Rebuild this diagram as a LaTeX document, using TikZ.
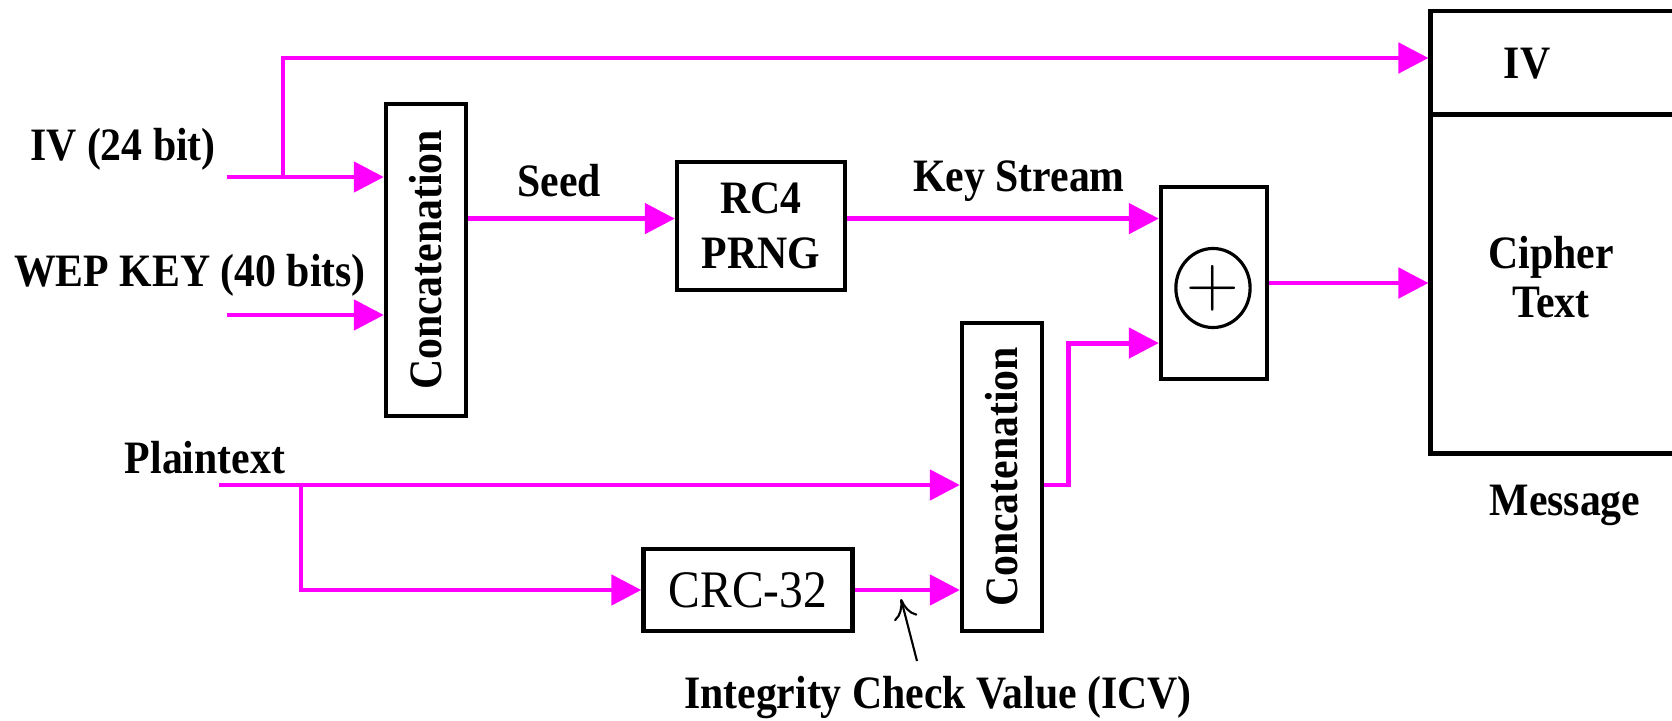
\documentclass[tikz,border=0pt]{standalone}
\usepackage{fontspec}
\setmainfont[FakeStretch=0.9]{Liberation Serif}
\usetikzlibrary{arrows.meta,shapes.geometric}
\definecolor{flowpink}{RGB}{255,0,255}

\begin{document}
\begin{tikzpicture}[x=0.01cm, y=-0.01cm]
    \tikzset{
        box/.style={draw, line width=1.2pt, inner sep=0pt},
        flow/.style={flowpink, line width=1.4pt, -{Triangle[length=3mm, width=3mm]}},
        lbl/.style={font=\fontsize{13.2}{15}\selectfont\bfseries, align=center, inner sep=0pt},
        pointer/.style={-{To[length=2mm, width=2.4mm]}, line width=0.6pt}
    }

    % Fix the page size
    \clip (0,0) rectangle (1672,721);

    % Add the blocks
    \node[box, minimum width=0.8cm, minimum height=3.12cm] (cat1) at (426,260) {};
    \node[lbl, rotate=90] at (cat1.center) {Concatenation};
    \node[box, lbl, font=\fontsize{13.2}{15.5}\selectfont\bfseries, minimum width=1.68cm, minimum height=1.28cm] (rc4) at (761,226) {RC4\\PRNG};
    \node[box, minimum width=1.06cm, minimum height=1.915cm] (xor) at (1214,283) {};
    \node[draw, ellipse, line width=0.9pt, minimum width=0.7cm, minimum height=0.79cm, inner sep=0pt] (xorop) at (1213,288) {\fontsize{21}{21}\selectfont$+$};
    \node[box, minimum width=0.8cm, minimum height=3.08cm] (cat2) at (1002,477) {};
    \node[lbl, rotate=90] at (cat2.center) {Concatenation};
    \node[box, minimum width=2.09cm, minimum height=0.82cm, font=\fontsize{15}{15}\selectfont] (crc) at (748,590) {CRC-32};

    % Add the message
    \node[box, line width=1.4pt, minimum width=2.7cm, minimum height=1.04cm] (ivbox) at (1566,63) {};
    \node[box, line width=1.4pt, minimum width=2.7cm, minimum height=3.38cm] (ctbox) at (1566,284) {};
    \node[lbl] (ivtxt) at (1527,64) {IV};
    \node[lbl, font=\fontsize{13.2}{13.8}\selectfont\bfseries] (cttxt) at (1551,277) {Cipher\\Text};
    \node[lbl] (msg) at (1565,505) {Message};

    % labels for the inputs
    \node[lbl] (ivlbl) at (123,149) {IV (24 bit)};
    \node[lbl] (keylbl) at (190,275) {WEP KEY (40 bits)};
    \node[lbl] (seedlbl) at (559,181) {Seed};
    \node[lbl] (kslbl) at (1019,181) {Key Stream};
    \node[lbl] (ptlbl) at (205,458) {Plaintext};
    \node[lbl] (icv) at (938,698) {Integrity Check Value (ICV)};

    % Add arrows
    \coordinate (ivin) at (227,177);
    \coordinate (ivsplit) at (283,177);
    \coordinate (keyin) at (227,315);
    \coordinate (ptin) at (219,485);
    \coordinate (ptsplit) at (301,485);
    \coordinate (icvtail) at (917,661);
    \coordinate (icvtip) at (901,599);

    \draw[flow] (ivin) -- (ivin -| cat1.west);
    \draw[flow] (ivsplit) |- ([yshift=0.05cm]ivbox.west);
    \draw[flow] (keyin) -- (keyin -| cat1.west);
    \draw[flow] ([yshift=0.414cm]cat1.east) -- ([yshift=0.414cm]cat1.east -| rc4.west);
    \draw[flow] ([yshift=0.074cm]rc4.east) -- ([yshift=0.074cm]rc4.east -| xor.west);
    \draw[flow] (xor.east) -- (xor.east -| ctbox.west);
    \draw[flow] (ptin) -- (ptin -| cat2.west);
    \draw[flow] (ptsplit) |- (crc.west);
    \draw[flow] (crc.east) -- (crc.east -| cat2.west);
    \draw[flow] (cat2.east |- ptin) -- ++(24,0) |- ([yshift=-0.6cm]xor.west);
    \draw[pointer] (icvtail) -- (icvtip);

\end{tikzpicture}
\end{document}
